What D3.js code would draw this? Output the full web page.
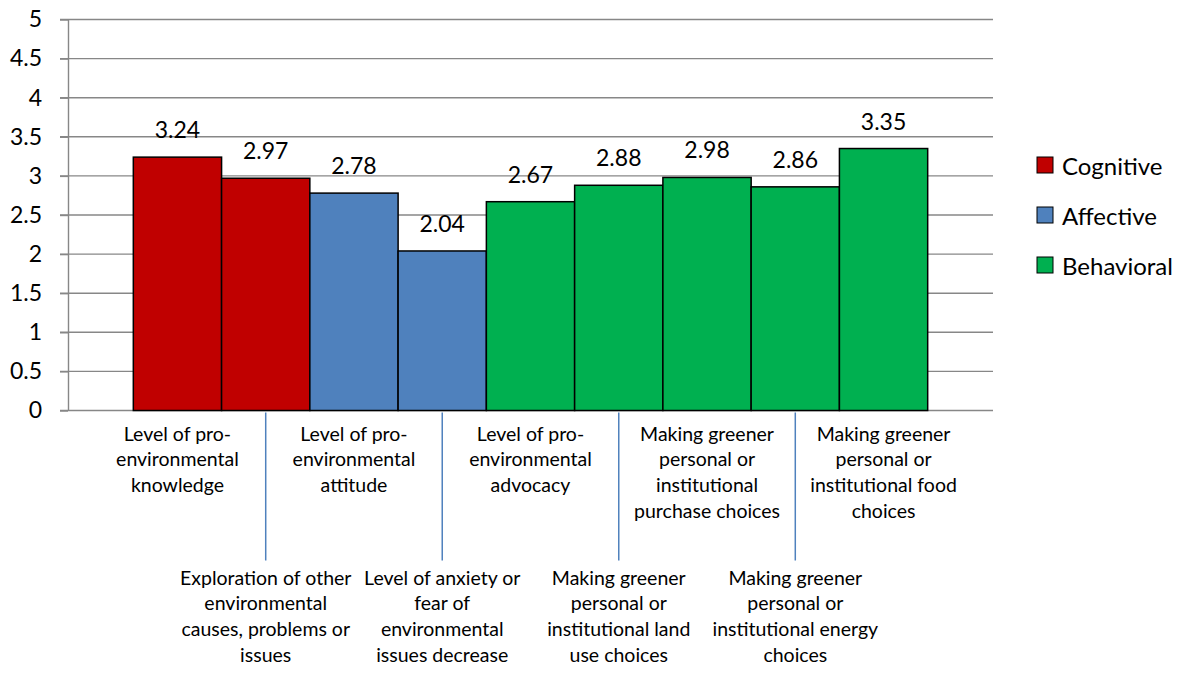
<!doctype html>
<html lang="en">
<head>
  <meta charset="utf-8">
  <title>Outcome levels</title>
  <style>
    * { margin: 0; padding: 0; box-sizing: border-box; }
    body { background: #fff; }
    svg { display: block; font-family: Lato, "Open Sans", sans-serif; }
  </style>
</head>
<body>
  <div id="chart"></div>
  <script src="https://cdn.jsdelivr.net/npm/d3@7"></script>
  <script>
    // data
    const categories = [
      'knowledge', 'exploration', 'attitude', 'anxiety', 'advocacy',
      'land', 'purchase', 'energy', 'food'
    ];
    const labelLines = [
      ['Level of pro-', 'environmental', 'knowledge'],
      ['Exploration of other', 'environmental', 'causes, problems or', 'issues'],
      ['Level of pro-', 'environmental', 'attitude'],
      ['Level of anxiety or', 'fear of', 'environmental', 'issues decrease'],
      ['Level of pro-', 'environmental', 'advocacy'],
      ['Making greener', 'personal or', 'institutional land', 'use choices'],
      ['Making greener', 'personal or', 'institutional', 'purchase choices'],
      ['Making greener', 'personal or', 'institutional energy', 'choices'],
      ['Making greener', 'personal or', 'institutional food', 'choices']
    ];
    const values = [3.24, 2.97, 2.78, 2.04, 2.67, 2.88, 2.98, 2.86, 3.35];
    const groups = ['Cognitive', 'Cognitive', 'Affective', 'Affective',
      'Behavioral', 'Behavioral', 'Behavioral', 'Behavioral', 'Behavioral'];
    const groupNames = ['Cognitive', 'Affective', 'Behavioral'];
    const groupColors = ['#C00000', '#4F81BD', '#00B050'];
    const yTicks = [0, 0.5, 1, 1.5, 2, 2.5, 3, 3.5, 4, 4.5, 5];

    const W = 1194, H = 675;
    const plot = { left: 68, right: 993, top: 19.5, bottom: 410.5 };
    const gridColor = '#878787';

    const svg = d3.select('#chart').append('svg')
      .attr('width', W)
      .attr('height', H);

    const x = d3.scaleBand()
      .domain(categories)
      .range([plot.left, plot.right])
      .paddingInner(0)
      .paddingOuter(0.74);

    const y = d3.scaleLinear()
      .domain([0, 5])
      .range([plot.bottom, plot.top]);

    const color = d3.scaleOrdinal().domain(groupNames).range(groupColors);

    // gridlines (extend left past the axis as tick marks)
    svg.append('g')
      .selectAll('line')
      .data(yTicks)
      .join('line')
      .attr('x1', plot.left - 8)
      .attr('x2', plot.right)
      .attr('y1', d => y(d))
      .attr('y2', d => y(d))
      .attr('stroke', gridColor)
      .attr('stroke-width', 1.4);

    // y axis
    const yAxis = svg.append('g')
      .attr('transform', `translate(${plot.left},0)`)
      .call(d3.axisLeft(y).tickValues(yTicks).tickSize(8).tickPadding(18).tickSizeOuter(0)
        .tickFormat(d3.format('')));
    yAxis.selectAll('path, line').attr('stroke', gridColor).attr('stroke-width', 1.4);
    yAxis.selectAll('text')
      .attr('fill', '#000')
      .style('font-family', 'Lato, sans-serif')
      .style('font-size', '23px');

    // bars
    svg.append('g')
      .selectAll('rect')
      .data(categories)
      .join('rect')
      .attr('x', d => x(d))
      .attr('y', (d, i) => y(values[i]))
      .attr('width', x.bandwidth())
      .attr('height', (d, i) => y(0) - y(values[i]))
      .attr('fill', (d, i) => color(groups[i]))
      .attr('stroke', '#000')
      .attr('stroke-width', 1.5);

    // value labels
    svg.append('g')
      .selectAll('text')
      .data(categories)
      .join('text')
      .attr('x', d => x(d) + x.bandwidth() / 2)
      .attr('y', (d, i) => y(values[i]) - 19)
      .attr('text-anchor', 'middle')
      .style('font-size', '23px')
      .text((d, i) => values[i].toFixed(2));

    // staggered category labels, with leader lines to the lower ones
    const lineH = 25.8;
    const cx = d => x(d) + x.bandwidth() / 2;

    svg.append('g')
      .selectAll('line')
      .data(categories.filter((d, i) => i % 2 === 1))
      .join('line')
      .attr('x1', cx)
      .attr('x2', cx)
      .attr('y1', y(0) + 2)
      .attr('y2', y(0) + 150)
      .attr('stroke', '#4F81BD')
      .attr('stroke-width', 1.5);

    const catLabels = svg.append('g')
      .selectAll('text')
      .data(categories)
      .join('text')
      .attr('text-anchor', 'middle')
      .attr('transform', (d, i) => `translate(${cx(d)},${i % 2 === 0 ? y(0) + 30 : y(0) + 174})`)
      .style('font-size', '19.5px');

    catLabels.selectAll('tspan')
      .data((d, i) => labelLines[i])
      .join('tspan')
      .attr('x', 0)
      .attr('y', (d, j) => j * lineH)
      .text(d => d);

    // legend
    const legend = svg.append('g')
      .selectAll('g')
      .data(groupNames)
      .join('g')
      .attr('transform', (d, i) => `translate(1037,${165 + i * 50})`);

    legend.append('rect')
      .attr('x', 0)
      .attr('y', -8)
      .attr('width', 16)
      .attr('height', 16)
      .attr('fill', d => color(d))
      .attr('stroke', '#000')
      .attr('stroke-width', 1);

    legend.append('text')
      .attr('x', 25)
      .attr('y', 0)
      .attr('dominant-baseline', 'central')
      .style('font-size', '24px')
      .text(d => d);
  </script>
</body>
</html>
